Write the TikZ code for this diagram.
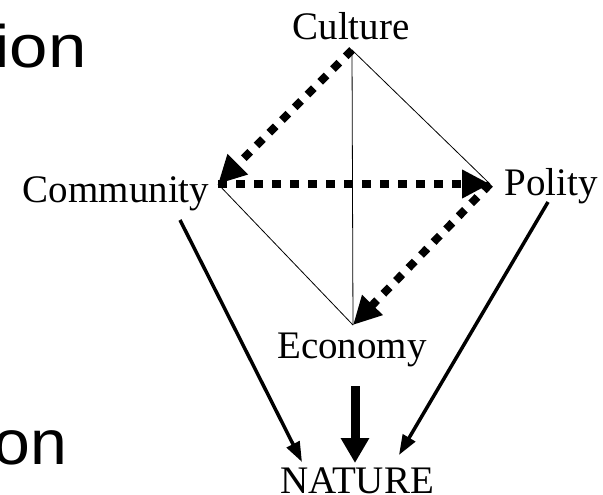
\documentclass[tikz,border=0pt]{standalone}
\usepackage{fontspec}
\setmainfont{Liberation Serif}
\newfontfamily\sansf{Liberation Sans}
\usetikzlibrary{arrows.meta}
\begin{document}
\begin{tikzpicture}[x=1pt,y=-1pt,
  lbl/.style={inner sep=0pt, anchor=base, font=\fontsize{39}{39}\selectfont},
  edgeline/.style={line width=0.8pt},
  dotarrow/.style={line width=8pt, dash pattern=on 9pt off 9pt, -{Triangle[length=28pt,width=27pt]}},
  solidarrow/.style={line width=3.5pt, -{Triangle[length=20pt,width=14pt]}},
  bigarrow/.style={line width=9pt, -{Triangle[length=25pt,width=27pt]}},
  bigtext/.style={inner sep=0pt, anchor=base east}]
\useasboundingbox (0,0) rectangle (603,495);

% large partial slide text
\node[bigtext] (ion) at (86.7,67.7) {\scalebox{1.15}[1]{\sansf\fontsize{60}{60}\selectfont ion}};
\node[bigtext] (on) at (67.6,464) {\scalebox{1.05}[1]{\sansf\fontsize{63}{63}\selectfont on}};

% labels
\node[lbl] (cul) at (351,40) {Culture};
\node[lbl] (com) at (116,202) {Community};
\node[lbl] (pol) at (551,195) {Polity};
\node[lbl] (eco) at (352,358) {Economy};
\node[lbl] (nat) at (357,493) {NATURE};

% diamond corners
\coordinate (T) at (352,50);
\coordinate (L) at (218,184);
\coordinate (R) at (490,184);
\coordinate (B) at (353,325);

% thin lines
\draw[edgeline] (T) -- (R);
\draw[edgeline] (L) -- (B);
\draw[edgeline] (T) -- (B);

% dotted arrows
\draw[dotarrow] (T) -- (L);
\draw[dotarrow] (L) -- (R);
\draw[dotarrow] (R) -- (B);

% arrows to nature
\coordinate (c1) at (180,220);
\coordinate (n1) at (302,462);
\coordinate (p1) at (548,202);
\coordinate (n2) at (399,455);
\coordinate (e1) at (355,386);
\coordinate (n3) at (355,463);
\draw[solidarrow] (c1) -- (n1);
\draw[solidarrow] (p1) -- (n2);
\draw[bigarrow] (e1) -- (n3);
\end{tikzpicture}
\end{document}
